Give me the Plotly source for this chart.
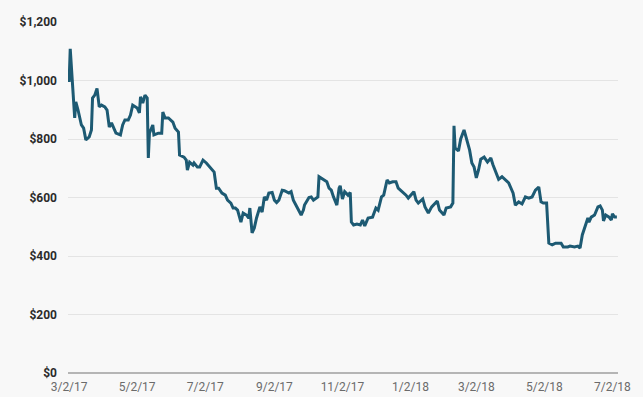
import plotly.graph_objects as go

dates = [
    "2017-03-02", "2017-03-03", "2017-03-07", "2017-03-08", "2017-03-10", "2017-03-13", "2017-03-15",
    "2017-03-17", "2017-03-20", "2017-03-22", "2017-03-23", "2017-03-25", "2017-03-27", "2017-03-29",
    "2017-03-31", "2017-04-03", "2017-04-05", "2017-04-07", "2017-04-09", "2017-04-11", "2017-04-13",
    "2017-04-17", "2017-04-19", "2017-04-21", "2017-04-24", "2017-04-26", "2017-04-28",
    "2017-05-02", "2017-05-04", "2017-05-05", "2017-05-07", "2017-05-09", "2017-05-11", "2017-05-12",
    "2017-05-13", "2017-05-16", "2017-05-17", "2017-05-21", "2017-05-24", "2017-05-25", "2017-05-27",
    "2017-05-30",
    "2017-06-03", "2017-06-05", "2017-06-08", "2017-06-09", "2017-06-13", "2017-06-15", "2017-06-16",
    "2017-06-18", "2017-06-21", "2017-06-22", "2017-06-25", "2017-06-27", "2017-06-30",
    "2017-07-03", "2017-07-07", "2017-07-10", "2017-07-12", "2017-07-14", "2017-07-17", "2017-07-20",
    "2017-07-22", "2017-07-25", "2017-07-27", "2017-07-29", "2017-07-31",
    "2017-08-03", "2017-08-05", "2017-08-08", "2017-08-10", "2017-08-11", "2017-08-13", "2017-08-15",
    "2017-08-17", "2017-08-20", "2017-08-22", "2017-08-24", "2017-08-26", "2017-08-28", "2017-08-31",
    "2017-09-02", "2017-09-04", "2017-09-06", "2017-09-09", "2017-09-11", "2017-09-15", "2017-09-17",
    "2017-09-19", "2017-09-23", "2017-09-26", "2017-09-28", "2017-09-29",
    "2017-10-03", "2017-10-05", "2017-10-07", "2017-10-09", "2017-10-11", "2017-10-12", "2017-10-16",
    "2017-10-19", "2017-10-21", "2017-10-23", "2017-10-25", "2017-10-28", "2017-10-30", "2017-10-31",
    "2017-11-02", "2017-11-04", "2017-11-07", "2017-11-09", "2017-11-10", "2017-11-12", "2017-11-15",
    "2017-11-18", "2017-11-20", "2017-11-22", "2017-11-25", "2017-11-29",
    "2017-12-02", "2017-12-04", "2017-12-07", "2017-12-09", "2017-12-12", "2017-12-14", "2017-12-17",
    "2017-12-20", "2017-12-22", "2017-12-26", "2017-12-29", "2017-12-31",
    "2018-01-05", "2018-01-07", "2018-01-09", "2018-01-13", "2018-01-15", "2018-01-18", "2018-01-21",
    "2018-01-26", "2018-01-28",
    "2018-02-01", "2018-02-03", "2018-02-07", "2018-02-09", "2018-02-10", "2018-02-11", "2018-02-14",
    "2018-02-16", "2018-02-19", "2018-02-22", "2018-02-24", "2018-02-26", "2018-02-28",
    "2018-03-02", "2018-03-04", "2018-03-06", "2018-03-09", "2018-03-12", "2018-03-15", "2018-03-17",
    "2018-03-22", "2018-03-25", "2018-03-28", "2018-03-31",
    "2018-04-04", "2018-04-06", "2018-04-09", "2018-04-12", "2018-04-15", "2018-04-18", "2018-04-21",
    "2018-04-24", "2018-04-27", "2018-04-29",
    "2018-05-01", "2018-05-04", "2018-05-06", "2018-05-09", "2018-05-12", "2018-05-17", "2018-05-19",
    "2018-05-23", "2018-05-25", "2018-05-29",
    "2018-06-01", "2018-06-03", "2018-06-05", "2018-06-07", "2018-06-10", "2018-06-11", "2018-06-13",
    "2018-06-16", "2018-06-19", "2018-06-21", "2018-06-23", "2018-06-24", "2018-06-26", "2018-06-29",
    "2018-07-01", "2018-07-02", "2018-07-04", "2018-07-06",
]

prices = [
    995, 1108, 872, 927, 899, 848, 837,
    797, 807, 831, 940, 950, 973, 910,
    916, 910, 899, 841, 855, 837, 820,
    814, 848, 865, 865, 882, 916,
    906, 889, 944, 923, 950, 940, 735,
    820, 848, 814, 820, 820, 892, 872,
    872,
    858, 837, 824, 745, 738, 728, 694,
    721, 711, 718, 704, 704, 728,
    718, 701, 687, 632, 632, 615, 608,
    591, 581, 564, 564, 557,
    516, 547, 540, 530, 564, 479, 496,
    530, 568, 550, 602, 591, 615, 617,
    591, 583, 591, 625, 623, 615, 620,
    591, 564, 540, 557, 574,
    600, 602, 591, 598, 602, 671, 662,
    654, 632, 625, 602, 574, 632, 640,
    595, 620, 608, 617, 516, 506, 509,
    506, 523, 503, 530, 533,
    564, 557, 602, 608, 660, 650, 654,
    654, 632, 620, 608, 598,
    620, 591, 581, 595, 568, 547, 568,
    588, 557,
    540, 564, 568, 581, 845, 769, 759,
    800, 831, 790, 762, 718, 704,
    667, 694, 731, 738, 721, 735, 711,
    662, 671, 662, 650,
    615, 574, 585, 578, 602, 598, 602,
    625, 636, 585,
    581, 581, 444, 438, 444, 444, 431,
    431, 434, 431,
    434, 427, 472, 496, 530, 516, 533,
    540, 568, 571, 557, 520, 540, 533,
    523, 544, 533, 533,
]

tick_dates = ["2017-03-02", "2017-05-02", "2017-07-02", "2017-09-02", "2017-11-02",
              "2018-01-02", "2018-03-02", "2018-05-02", "2018-07-02"]
tick_labels = ["3/2/17", "5/2/17", "7/2/17", "9/2/17", "11/2/17",
               "1/2/18", "3/2/18", "5/2/18", "7/2/18"]
y_ticks = [0, 200, 400, 600, 800, 1000, 1200]
y_labels = ["$0", "$200", "$400", "$600", "$800", "$1,000", "$1,200"]

fig = go.Figure()
fig.add_trace(go.Scatter(
    x=dates, y=prices, mode="lines",
    line=dict(color="#1d5a73", width=3),
    hoverinfo="x+y",
))

fig.update_layout(
    width=643, height=397,
    margin=dict(l=68, r=25, t=22, b=24),
    paper_bgcolor="#f8f8f8",
    plot_bgcolor="#f8f8f8",
    showlegend=False,
    font=dict(family="Roboto, Arial, sans-serif"),
)
fig.update_xaxes(
    type="date",
    range=["2017-03-01", "2018-07-07"],
    tickvals=tick_dates, ticktext=tick_labels,
    showgrid=False, zeroline=False, showline=False,
    tickfont=dict(size=12, color="#6b6b6b"),
    ticks="", ticklabelstandoff=5, automargin=False,
)
fig.update_yaxes(
    range=[0, 1200],
    tickvals=y_ticks, ticktext=y_labels,
    showgrid=True, gridcolor="#e4e4e4", gridwidth=1,
    zeroline=True, zerolinecolor="#b5b5b5", zerolinewidth=2,
    showline=False,
    tickfont=dict(size=12, color="#2b2b2b", weight="bold"),
    ticks="", ticklabelstandoff=10, automargin=False,
)

fig.write_html("out.html")
